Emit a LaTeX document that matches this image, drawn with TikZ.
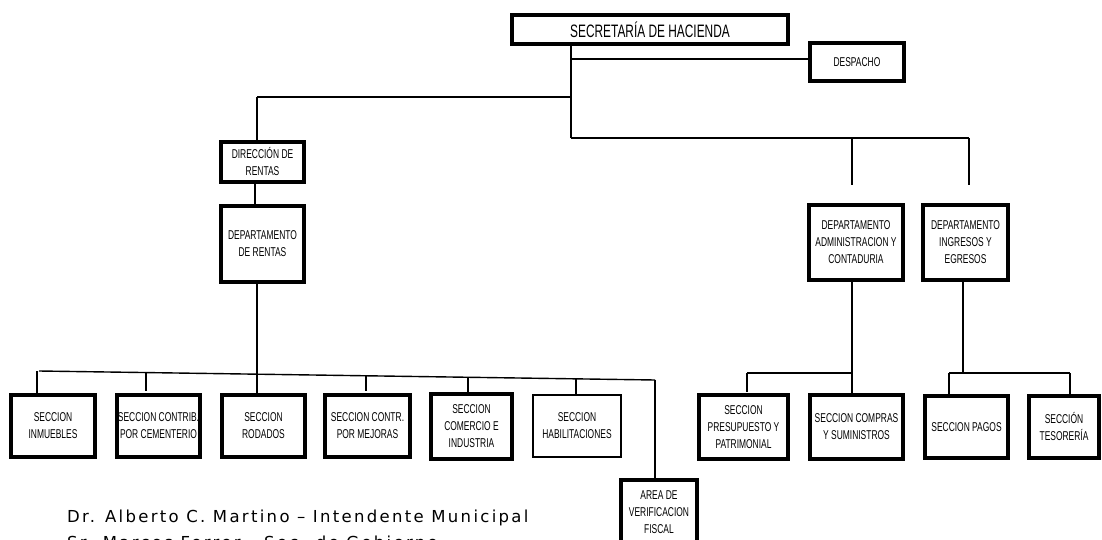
\documentclass[tikz,border=0pt]{standalone}
\usepackage{fontspec}
\setmainfont{Liberation Sans}
\newfontfamily\narrowfont[FakeStretch=0.66]{Liberation Sans}
\newfontfamily\sigfont[LetterSpace=14]{DejaVu Sans}
\begin{document}
\begin{tikzpicture}[x=1pt,y=-1pt,
  box/.style={draw=black,line width=3.8pt,fill=white,align=center,inner sep=0pt,
    font=\narrowfont\fontsize{12.8}{17}\selectfont},
  hline/.style={line width=2.2pt},
  vline/.style={line width=1.2pt},
  sig/.style={anchor=base west,inner sep=0pt,font=\sigfont\fontsize{16.5}{20}\selectfont}]
\fill[white] (0,0) rectangle (1102,540);
\useasboundingbox (0,0) rectangle (1102,540);
% top level
\node[box,minimum width=276pt,minimum height=29pt,font=\narrowfont\fontsize{18}{20}\selectfont] (sec) at (650,29.5) {SECRETARÍA DE HACIENDA};
\node[box,minimum width=94pt,minimum height=38pt] (desp) at (857,62) {DESPACHO};
% left branch
\node[box,minimum width=83pt,minimum height=40pt] (dir) at (262.5,162) {DIRECCIÓN DE\\RENTAS};
\node[box,minimum width=83pt,minimum height=76pt] (deprent) at (262.5,244) {DEPARTAMENTO\\DE RENTAS};
% right departments
\node[box,minimum width=94pt,minimum height=75pt] (admin) at (856,242.5) {DEPARTAMENTO\\ADMINISTRACION Y\\CONTADURIA};
\node[box,minimum width=85pt,minimum height=75pt] (ingr) at (965.5,242.5) {DEPARTAMENTO\\INGRESOS Y\\EGRESOS};
% sections left
\node[box,minimum width=84pt,minimum height=62pt] (inm) at (53,426) {SECCION\\INMUEBLES};
\node[box,minimum width=83pt,minimum height=62pt] (cem) at (158.5,426) {SECCION CONTRIB.\\POR CEMENTERIO};
\node[box,minimum width=83pt,minimum height=62pt] (rod) at (263.5,426) {SECCION\\RODADOS};
\node[box,minimum width=85pt,minimum height=62pt] (mej) at (367.5,426) {SECCION CONTR.\\POR MEJORAS};
\node[box,minimum width=81pt,minimum height=65pt] (com) at (471.5,426.5) {SECCION\\COMERCIO E\\INDUSTRIA};
\node[box,minimum width=88pt,minimum height=62pt,line width=2.6pt] (hab) at (577,426) {SECCION\\HABILITACIONES};
\node[box,minimum width=76pt,minimum height=64pt] (area) at (659,512) {AREA DE\\VERIFICACION\\FISCAL};
% sections right
\node[box,minimum width=89pt,minimum height=64pt] (pres) at (743.5,427) {SECCION\\PRESUPUESTO Y\\PATRIMONIAL};
\node[box,minimum width=93pt,minimum height=64pt] (comp) at (856.5,427) {SECCION COMPRAS\\Y SUMINISTROS};
\node[box,minimum width=83pt,minimum height=62pt] (pag) at (966.5,427) {SECCION PAGOS};
\node[box,minimum width=70pt,minimum height=62pt] (tes) at (1064,427) {SECCIÓN\\TESORERÍA};
% junction coordinates
\coordinate (jd) at (571,59);
\coordinate (jl) at (571,97);
\coordinate (jlc) at (257,97);
\coordinate (jr) at (571,138);
\coordinate (jra) at (852,138);
\coordinate (jri) at (969,138);
\coordinate (jra2) at (852,185);
\coordinate (jri2) at (969,185);
\coordinate (ls) at (39,371);
\coordinate (le) at (655,380);
\coordinate (s1) at (146,372.6);
\coordinate (s1b) at (146,391);
\coordinate (s3) at (366,375.8);
\coordinate (s3b) at (366,391);
\coordinate (ra) at (852,373);
\coordinate (ral) at (747,373);
\coordinate (ralb) at (747,392);
\coordinate (ri) at (963,373);
\coordinate (ril) at (949,373);
\coordinate (rir) at (1070,373);
% connectors
\draw[vline] (sec.south -| jr) -- (jr);
\draw[hline] (jd) -- (jd -| desp.west);
\draw[hline] (jl) -- (jlc);
\draw[vline] (jlc) -- (jlc |- dir.north);
\draw[hline] (jr) -- (jri);
\draw[vline] (jra) -- (jra2);
\draw[vline] (jri) -- (jri2);
\draw[vline] (dir.south -| 255,0) -- (deprent.north -| 255,0);
\draw[vline] (deprent.south -| 257,0) -- (257,374.2) -- (rod.north -| 257,0);
\draw[line width=1.4pt] (ls) -- (le);
\draw[vline] (le) -- (le |- area.north);
\draw[vline] (ls -| 37,0) -- (inm.north -| 37,0);
\draw[vline] (s1) -- (s1b);
\draw[vline] (s3) -- (s3b);
\draw[vline] (468,377.3) -- (com.north -| 468,0);
\draw[vline] (576,378.8) -- (hab.north -| 576,0);
\draw[vline] (admin.south -| ra) -- (ra) -- (comp.north -| ra);
\draw[hline] (ra) -- (ral);
\draw[vline] (ral) -- (ralb);
\draw[vline] (ingr.south -| ri) -- (ri);
\draw[hline] (ril) -- (rir);
\draw[hline] (ril) -- (pag.north -| ril);
\draw[hline] (rir) -- (tes.north -| rir);
% signature text
\node[sig] (t1) at (67,522) {Dr. Alberto C. Martino – Intendente Municipal};
\node[sig] (t2) at (67,548) {Sr. Marcos Ferrer – Sec. de Gobierno};
\end{tikzpicture}
\end{document}
